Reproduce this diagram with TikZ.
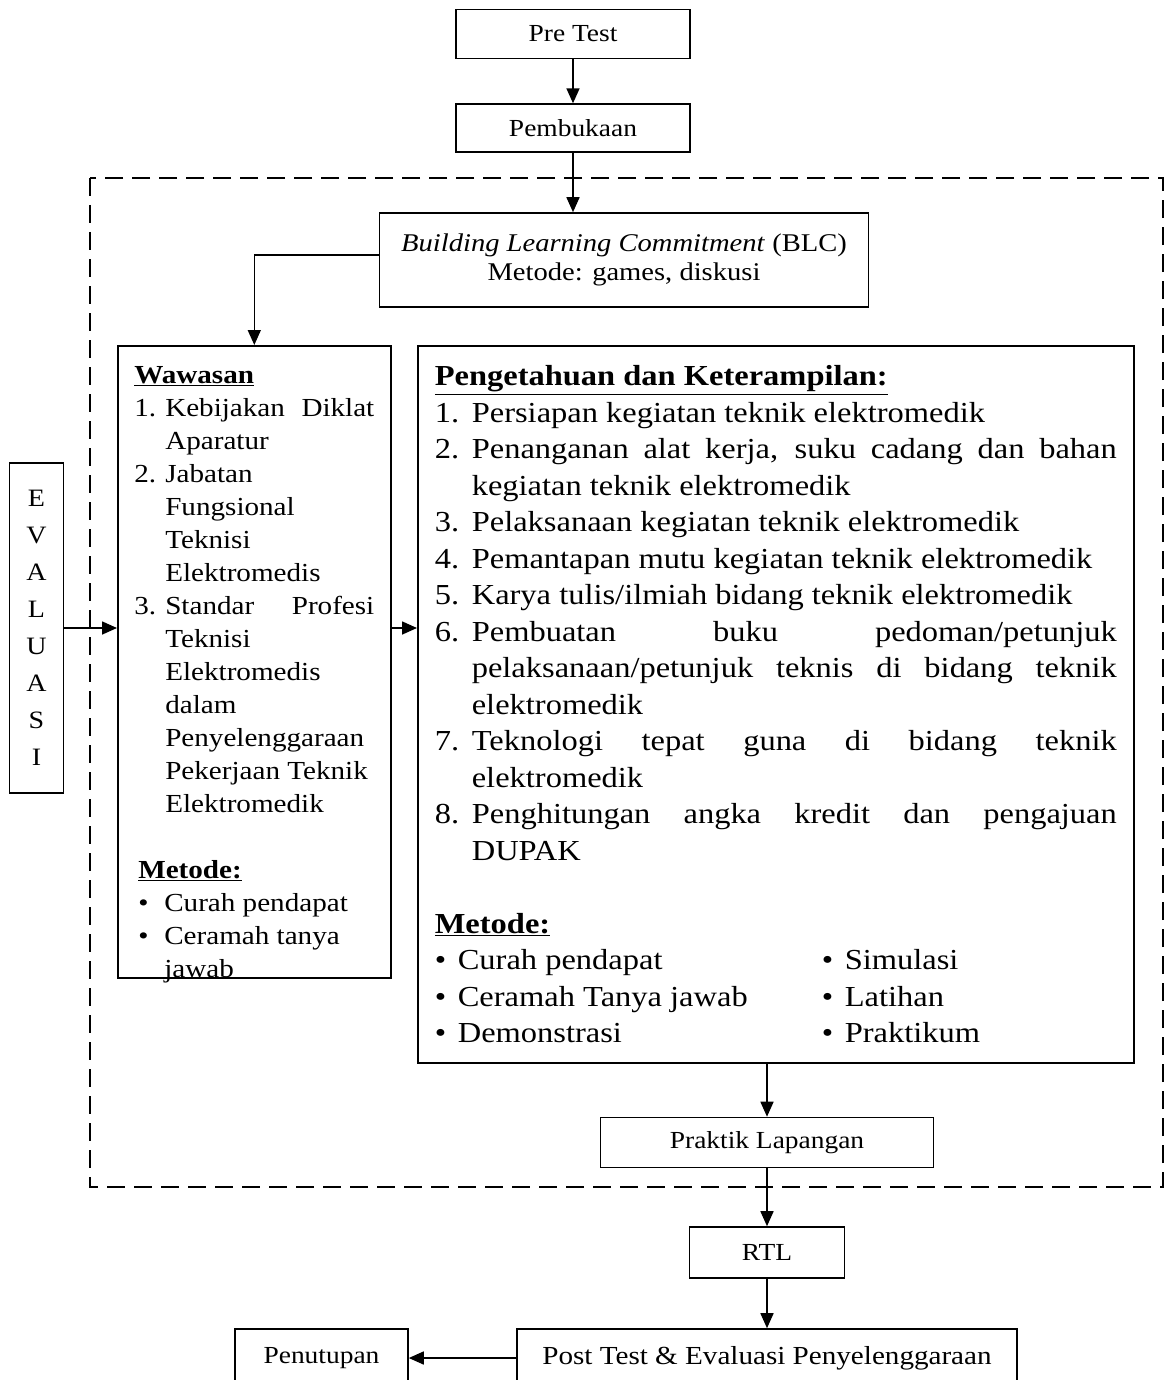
\documentclass[tikz,border=0pt]{standalone}
\usepackage{fontspec}
\setmainfont{Liberation Serif}[FakeStretch=1.12]
\usepackage{tikz}
\usetikzlibrary{arrows.meta,positioning,calc}
\def\boxline{1.6pt}
\newcommand\bigfont{\fontsize{29}{36.5}\selectfont}
\newcommand\midfont{\fontsize{26}{33}\selectfont}
\newcommand\boxfont{\fontsize{24.5}{29}\selectfont}
\newcommand\headline[1]{\textbf{\underline{#1}}}
% numbered line with hanging text
\newcommand\numline[3]{\par\noindent\hangindent=#1\hangafter=1\makebox[#1][l]{#2}#3\par}
\newcommand\setpar{\parindent=0pt\hyphenpenalty=10000\exhyphenpenalty=10000\tolerance=10000\emergencystretch=20pt}

\begin{document}
\begin{tikzpicture}[x=1pt,y=-1pt,line width=\boxline,
    node distance=44pt,
    myarrow/.style={-{Triangle[length=15pt,width=13pt]}},
    frame/.style={dashed,dash pattern=on 18pt off 9pt,line width=2.4pt}]
    \tikzstyle{box}=[rectangle,draw=black,fill=white,inner sep=0pt,align=center,font=\boxfont]
    \tikzstyle{textbox}=[box,anchor=north west,align=left,inner ysep=20pt]
    \useasboundingbox (0,0) rectangle (1165,1380);

    % Draw the dashed frame
    \draw[frame] (90,178) rectangle (1163,1187);

    % Draw the top nodes
    \node[box,minimum width=234pt,minimum height=49pt] (pre) at (573,34) {Pre Test};
    \node[box,minimum width=234pt,minimum height=48pt,below=44pt of pre] (open) {Pembukaan};
    \node[box,minimum width=489pt,minimum height=94pt,font=\fontsize{25.5}{29}\selectfont] (blc) at (624,260)
        {\textit{Building Learning Commitment} (BLC)\\Metode: games, diskusi};

    % Draw the evaluation node
    \node[box,minimum width=54pt,minimum height=330pt,font=\fontsize{25}{37}\selectfont] (eval) at (36.5,628)
        {E\\V\\A\\L\\U\\A\\S\\I};

    % Draw the Wawasan node
    \node[textbox,inner xsep=16.5pt,inner ysep=21pt] (waw) at (117,345) {%
    \begin{minipage}[t][590pt][t]{240pt}\midfont\setpar
    \headline{Wawasan}
    \numline{31pt}{1.}{Kebijakan Diklat\linebreak Aparatur}
    \numline{31pt}{2.}{Jabatan\newline Fungsional\newline Teknisi\newline Elektromedis}
    \numline{31pt}{3.}{Standar Profesi\linebreak Teknisi\newline Elektromedis\newline dalam\newline
        Penyelenggaraan\newline Pekerjaan Teknik\newline Elektromedik}
    \vskip\baselineskip
    \hspace*{4pt}\headline{Metode:}
    \par\noindent\hspace*{4pt}\hangindent=30pt\hangafter=1\makebox[26pt][l]{\textbullet}Curah pendapat
    \par\noindent\hspace*{4pt}\hangindent=30pt\hangafter=1\makebox[26pt][l]{\textbullet}Ceramah tanya\newline jawab\par
    \end{minipage}};

    % Draw the Pengetahuan node
    \node[textbox,inner xsep=17pt] (pk) at (417,345) {%
    \begin{minipage}[t][677pt][t]{682pt}\bigfont\setpar
    \headline{Pengetahuan dan Keterampilan:}
    \numline{37pt}{1.}{Persiapan kegiatan teknik elektromedik}
    \numline{37pt}{2.}{Penanganan alat kerja, suku cadang dan bahan\linebreak kegiatan teknik elektromedik}
    \numline{37pt}{3.}{Pelaksanaan kegiatan teknik elektromedik}
    \numline{37pt}{4.}{Pemantapan mutu kegiatan teknik elektromedik}
    \numline{37pt}{5.}{Karya tulis/ilmiah bidang teknik elektromedik}
    \numline{37pt}{6.}{Pembuatan buku pedoman/petunjuk\linebreak
        pelaksanaan/petunjuk teknis di bidang teknik\linebreak elektromedik}
    \numline{37pt}{7.}{Teknologi tepat guna di bidang teknik\linebreak elektromedik}
    \numline{37pt}{8.}{Penghitungan angka kredit dan pengajuan\linebreak DUPAK}
    \vskip\baselineskip
    \headline{Metode:}\par
    \makebox[387pt][l]{\makebox[23pt][l]{\textbullet}Curah pendapat}\makebox[23pt][l]{\textbullet}Simulasi\par
    \makebox[387pt][l]{\makebox[23pt][l]{\textbullet}Ceramah Tanya jawab}\makebox[23pt][l]{\textbullet}Latihan\par
    \makebox[387pt][l]{\makebox[23pt][l]{\textbullet}Demonstrasi}\makebox[23pt][l]{\textbullet}Praktikum\par
    \end{minipage}};

    % Draw the bottom nodes
    \node[box,minimum width=333pt,minimum height=50pt] (prak) at (767,1142.5) {Praktik Lapangan};
    \node[box,minimum width=155pt,minimum height=51pt] (rtl) at (767,1252.5) {RTL};
    \node[box,minimum width=500pt,minimum height=58pt,font=\fontsize{26}{29}\selectfont] (post) at (767,1358)
        {Post Test \& Evaluasi Penyelenggaraan};
    \node[box,minimum width=173pt,minimum height=58pt] (close) at (321.5,1358) {Penutupan};

    % Connect the nodes
    \draw[myarrow] (pre) -- (open);
    \draw[myarrow] (open) -- (open |- blc.north);
    \draw[myarrow] (blc.west |- 0,255) -| (waw.north);
    \draw[myarrow] (eval.east) -- (eval.east -| waw.west);
    \draw[myarrow] (waw.east |- eval.east) -- (pk.west |- eval.east);
    \draw[myarrow] (pk.south -| prak) -- (prak);
    \draw[myarrow] (prak) -- (rtl);
    \draw[myarrow] (rtl) -- (post);
    \draw[myarrow] (post) -- (close);
\end{tikzpicture}
\end{document}
